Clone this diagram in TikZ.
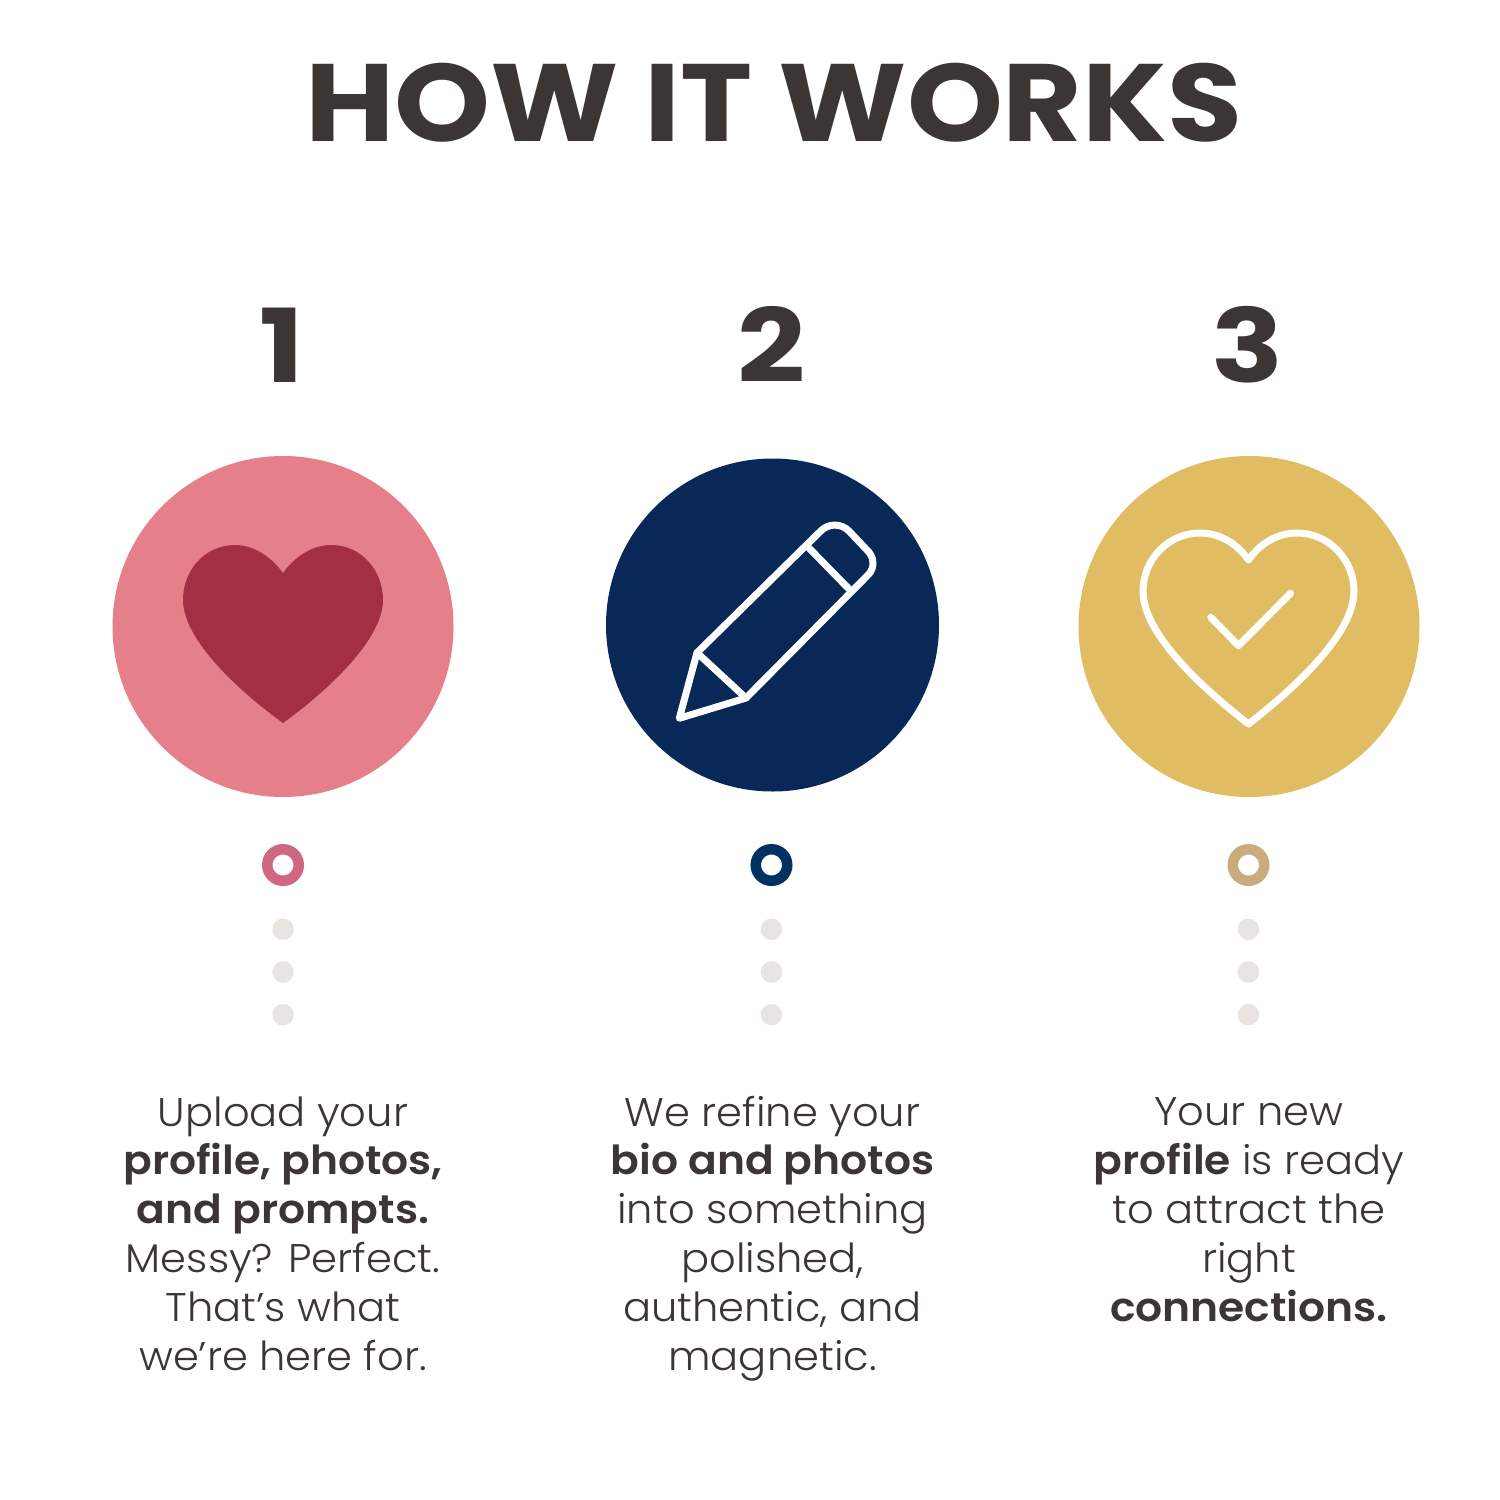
\documentclass[tikz,border=0pt]{standalone}
\usepackage{fontspec}
\setmainfont{Poppins Light}[FakeStretch=1.04,BoldFont=Poppins SemiBold,BoldFeatures={FakeStretch=1.06}]
\newfontfamily\headfont{Poppins Bold}[FakeStretch=1.11]
\newfontfamily\numfont{Poppins Bold}[FakeStretch=1.17]
\definecolor{ink}{HTML}{3B3533}
\definecolor{rosefill}{HTML}{E57F8A}
\definecolor{wine}{HTML}{A23042}
\definecolor{navy}{HTML}{082957}
\definecolor{gold}{HTML}{E0BD62}
\definecolor{rosering}{HTML}{D0667F}
\definecolor{navyring}{HTML}{013162}
\definecolor{tanring}{HTML}{C9AB7C}
\definecolor{dotgrey}{HTML}{E8E4E1}
\tikzset{x=1pt,y=-1pt,
 bigdisc/.style={circle,inner sep=0pt,minimum size=#1},
 ringdot/.style={circle,draw=#1,line width=10.5,fill=white,inner sep=0pt,minimum size=31.5},
 smalldot/.style={circle,fill=dotgrey,inner sep=0pt,minimum size=21.5},
 numeral/.style={font=\numfont\fontsize{102}{102}\selectfont,text=ink,anchor=base,inner sep=0pt},
 body/.style={font=\fontsize{40}{48.8}\selectfont,text=ink,align=center,anchor=base,inner sep=0pt},
 icon/.style={draw=white,line width=7,line join=round,line cap=round}}
\begin{document}
\begin{tikzpicture}
\useasboundingbox[fill=white] (0,0) rectangle (1500,1500);
\node[font=\headfont\fontsize{110}{110}\selectfont,text=ink,anchor=base,inner sep=0pt] (title) at (774,141) {HOW IT WORKS};
\node[numeral] (n1) at (282,382) {1};
\node[numeral] (n2) at (772,382) {2};
\node[numeral] (n3) at (1248,382) {3};
\node[bigdisc=341,fill=rosefill] (d1) at (283,626.5) {};
\node[bigdisc=333,fill=navy] (d2) at (772.5,625) {};
\node[bigdisc=341,fill=gold] (d3) at (1249,626.5) {};
% heart filled
\fill[wine] (283,573) .. controls (270,555) and (252,545) .. (235,545)
 .. controls (205,545) and (183,570) .. (183,600)
 .. controls (183,640) and (240,692) .. (283,723)
 .. controls (326,692) and (383,640) .. (383,600)
 .. controls (383,570) and (361,545) .. (331,545)
 .. controls (314,545) and (296,555) .. (283,573) -- cycle;
% pencil
\draw[icon] (697,652.7) -- (820,531.7) .. controls (828,523) and (841,523) .. (849,531)
 -- (866,549) .. controls (875,557) and (875,568) .. (868,575) -- (746,698) -- (679.3,718.3) -- cycle;
\draw[icon] (697,652.7) -- (746,698);
\draw[icon] (807.7,546.7) -- (850,590);
% outline heart
\draw[icon] (1248.5,560) .. controls (1236,542) and (1218,533) .. (1200,533)
 .. controls (1168,533) and (1143,560) .. (1143,591)
 .. controls (1143,635) and (1205,690) .. (1248.5,724)
 .. controls (1292,690) and (1354,635) .. (1354,591)
 .. controls (1354,560) and (1329,533) .. (1297,533)
 .. controls (1279,533) and (1261,542) .. cycle;
\draw[icon] (1210.7,617.3) -- (1238.5,645.7) -- (1290.5,593.3);
\node[ringdot=rosering] (r1) at (283,865) {};
\node[ringdot=navyring] (r2) at (771.5,865) {};
\node[ringdot=tanring] (r3) at (1248.5,865) {};
\foreach \c/\x in {a/283,b/771.5,c/1248.5}{
 \node[smalldot] (\c1) at (\x,929.3) {};
 \node[smalldot] (\c2) at (\x,972) {};
 \node[smalldot] (\c3) at (\x,1014.7) {};
}
\node[body] (t1) at (283,1370) {Upload your\\\textbf{profile, photos,}\\\textbf{and prompts.}\\Messy? Perfect.\\That’s what\\we’re here for.};
\node[body] (t2) at (772.5,1370) {We refine your\\\textbf{bio and photos}\\into something\\polished,\\authentic, and\\magnetic.};
\node[body] (t3) at (1249,1321) {Your new\\\textbf{profile} is ready\\to attract the\\right\\\textbf{connections.}};
\end{tikzpicture}
\end{document}
